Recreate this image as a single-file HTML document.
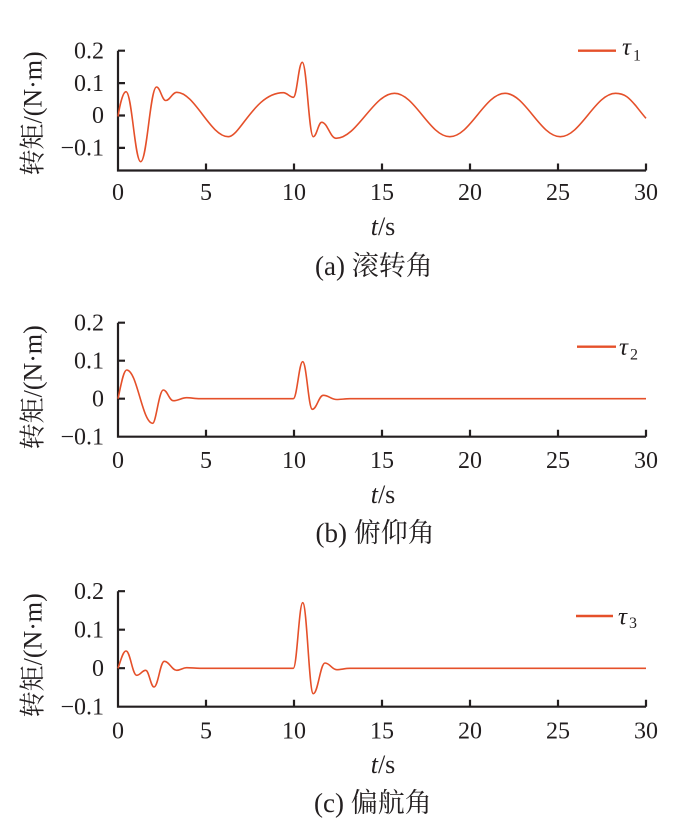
<!DOCTYPE html>
<html><head><meta charset="utf-8"><style>
html,body{margin:0;padding:0;background:#fff;}
svg{display:block;}
text{font-family:"Liberation Serif","Noto Serif CJK SC",serif;fill:#231f20;}
.cj{font-family:"Liberation Serif","Noto Serif CJK SC","Noto Sans CJK SC",serif;}
</style></head><body>
<svg width="678" height="827" viewBox="0 0 678 827" xmlns="http://www.w3.org/2000/svg">
<g fill="none" stroke="#231f20" stroke-width="2.2">
<path d="M118,50.7 V170.5 H646"/>
<path d="M118,50.7 h7 M118,83.1 h7 M118,115.5 h7 M118,147.9 h7"/>
<path d="M206,170.5 v-7 M294,170.5 v-7 M382,170.5 v-7 M470,170.5 v-7 M558,170.5 v-7 M646,170.5 v-7"/>
<path d="M118,322.7 V436.7 H646"/>
<path d="M118,322.7 h7 M118,360.7 h7 M118,398.7 h7"/>
<path d="M206,436.7 v-7 M294,436.7 v-7 M382,436.7 v-7 M470,436.7 v-7 M558,436.7 v-7 M646,436.7 v-7"/>
<path d="M118,591.2 V706.7 H646"/>
<path d="M118,591.2 h7 M118,629.7 h7 M118,668.2 h7"/>
<path d="M206,706.7 v-7 M294,706.7 v-7 M382,706.7 v-7 M470,706.7 v-7 M558,706.7 v-7 M646,706.7 v-7"/>
</g>
<g fill="none" stroke="#e5502a" stroke-width="1.6" stroke-linejoin="round">
<path d="M118,116.5 C120,104 123,91.7 126,91.7 C131.9,91.7 134.8,161.7 140.7,161.7 C147,161.7 150.2,87 156.5,87 C160.2,87 162,100.5 165.7,100.5 C170.1,100.5 172.3,92.3 176.7,92.3 C194.7,92.3 210.3,136.7 228.3,136.7 C240,136.7 255,92.7 283.3,92.7 C287,92.7 290,97.3 293.3,97.3 C297,97.3 298.5,62.3 302.3,62.3 C306.7,62.3 308.9,136.7 313.3,136.7 C316.7,136.7 318.3,122.3 321.7,122.3 C327.4,122.3 330.3,138.3 336,138.3 C357,138.3 373.5,93.3 394.5,93.3 C414.6,93.3 429.7,136.7 449.8,136.7 C469.9,136.7 484.9,93.3 505,93.3 C525.1,93.3 540.2,136.7 560.3,136.7 C580.4,136.7 595.5,93.3 615.6,93.3 C625.6,93.3 630,99 636,106 C640,111 643,115 646,118.3"/>
<path d="M118,398.7 C121,385 123.5,370 126.7,370 C137.1,370 142.3,423.3 152.7,423.3 C156,423.3 159,390 163.3,390 C167.3,390 169.3,400.7 173.3,400.7 C178.7,400.7 181.3,397.7 186.7,397.7 C191,397.7 195,398.7 200,398.7 L293.3,398.7 C297,398.7 299,361.7 302.7,361.7 C306.5,361.7 308.5,409.3 312.3,409.3 C316.7,409.3 318.9,395.3 323.3,395.3 C328.7,395.3 331.3,399.5 336.7,399.5 C341,399.5 345,398.7 350,398.7 L646,398.7"/>
<path d="M118,668.3 C121,660 123,651 126,651 C130.3,651 132.4,675.3 136.7,675.3 C140.3,675.3 142.1,670.3 145.7,670.3 C149,670.3 150.7,687 154,687 C158.1,687 160.2,661.3 164.3,661.3 C169.3,661.3 171.7,670.3 176.7,670.3 C180.7,670.3 182.7,667.7 186.7,667.7 C191,667.7 195,668.3 200,668.3 L293.3,668.3 C297,668.3 299,602.7 302.7,602.7 C307,602.7 309,693.7 313.3,693.7 C318,693.7 320.3,663 325,663 C329.7,663 332,669.7 336.7,669.7 C341,669.7 345,668.3 350,668.3 L646,668.3"/>
</g>
<g stroke="#e5502a" stroke-width="2.4">
<line x1="578" y1="50.7" x2="616" y2="50.7"/>
<line x1="577" y1="346.7" x2="616" y2="346.7"/>
<line x1="576" y1="616" x2="613" y2="616"/>
</g>
<text x="622" y="55" font-size="25" font-style="italic">τ</text><text x="633" y="60.7" font-size="16">1</text>
<text x="619" y="355" font-size="25" font-style="italic">τ</text><text x="630" y="359.5" font-size="16">2</text>
<text x="618" y="624.3" font-size="25" font-style="italic">τ</text><text x="629" y="628" font-size="16">3</text>

<g font-size="24" text-anchor="end">
<text x="104" y="58.4">0.2</text>
<text x="104" y="90.8">0.1</text>
<text x="104" y="123.2">0</text>
<text x="104" y="155.6">−0.1</text>
<text x="104" y="330.4">0.2</text>
<text x="104" y="368.4">0.1</text>
<text x="104" y="406.4">0</text>
<text x="104" y="444.4">−0.1</text>
<text x="104" y="598.9">0.2</text>
<text x="104" y="637.4">0.1</text>
<text x="104" y="675.9">0</text>
<text x="104" y="714.4">−0.1</text>
</g>
<g font-size="24" text-anchor="middle">
<text x="118" y="200">0</text><text x="206" y="200">5</text><text x="294" y="200">10</text><text x="382" y="200">15</text><text x="470" y="200">20</text><text x="558" y="200">25</text><text x="646" y="200">30</text>
<text x="118" y="468">0</text><text x="206" y="468">5</text><text x="294" y="468">10</text><text x="382" y="468">15</text><text x="470" y="468">20</text><text x="558" y="468">25</text><text x="646" y="468">30</text>
<text x="118" y="738.5">0</text><text x="206" y="738.5">5</text><text x="294" y="738.5">10</text><text x="382" y="738.5">15</text><text x="470" y="738.5">20</text><text x="558" y="738.5">25</text><text x="646" y="738.5">30</text>
</g>
<g font-size="26" text-anchor="middle">
<text x="383" y="235"><tspan font-style="italic">t</tspan>/s</text>
<text x="383" y="503"><tspan font-style="italic">t</tspan>/s</text>
<text x="383" y="773"><tspan font-style="italic">t</tspan>/s</text>
</g>
<g font-size="26" text-anchor="middle" class="cj">
<text transform="translate(41.5,113.4) rotate(-90)">转矩/(N·m)</text>
<text transform="translate(41.5,387.3) rotate(-90)">转矩/(N·m)</text>
<text transform="translate(41.5,655.3) rotate(-90)">转矩/(N·m)</text>
</g>
<g font-size="27" class="cj">
<text x="315" y="275">(a) 滚转角</text>
<text x="315.5" y="542">(b) 俯仰角</text>
<text x="314" y="812">(c) 偏航角</text>
</g>
</svg>
</body></html>
